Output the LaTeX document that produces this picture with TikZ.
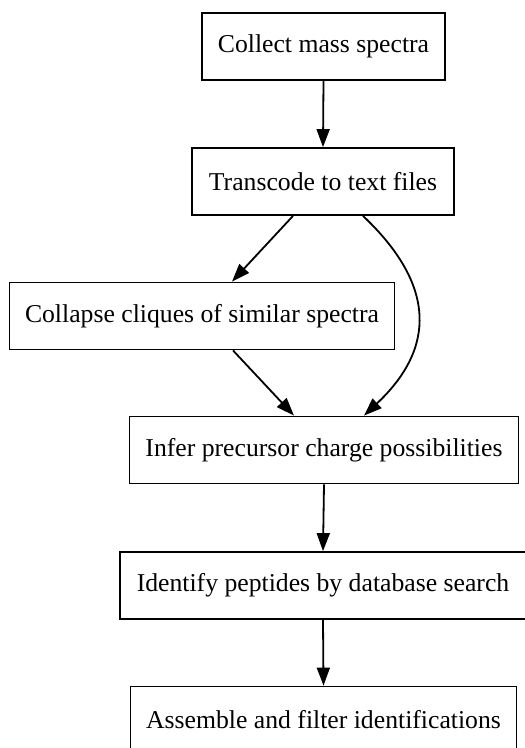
\documentclass[tikz,border=0pt]{standalone}
\usepackage{fontspec}
\setmainfont{Liberation Serif}
\usetikzlibrary{arrows.meta,calc}
\begin{document}
\begin{tikzpicture}[x=1pt,y=-1pt,
  stepbox/.style={draw=black,line width=1.8pt,rectangle,inner sep=0pt,minimum height=67pt,
    font=\fontsize{25.7}{30}\selectfont},
  conn/.style={line width=1.8pt,-{Triangle[length=18pt,width=13pt]}}]
\useasboundingbox (0,0) rectangle (525,748);
\node[stepbox,minimum width=243pt] (b1) at (323.5,46.5) {Collect mass spectra};
\node[stepbox,minimum width=262pt] (b2) at (323,181.5) {Transcode to text files};
\node[stepbox,minimum width=385pt] (b3) at (202,316) {Collapse cliques of similar spectra};
\node[stepbox,minimum width=389pt] (b4) at (324,450) {Infer precursor charge possibilities};
\node[stepbox,minimum width=406pt] (b5) at (323,585.5) {Identify peptides by database search};
\node[stepbox,minimum width=386pt] (b6) at (323.5,720) {Assemble and filter identifications};
\draw[conn] (b1.south) -- (b2.north);
\draw[conn] ($(b2.south)+(-30,0)$) -- ($(b3.north)+(30,0)$);
\draw[conn] ($(b2.south)+(40,0)$) .. controls (436,285) and (436,348) .. ($(b4.north)+(40,0)$);
\draw[conn] ($(b3.south)+(31,0)$) -- ($(b4.north)+(-30,0)$);
\draw[conn] (b4.south) -- (b5.north);
\draw[conn] (b5.south) -- (b6.north);
\end{tikzpicture}
\end{document}
